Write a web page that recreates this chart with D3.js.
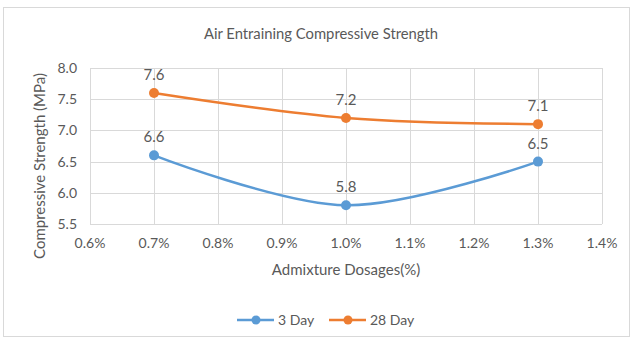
<!DOCTYPE html>
<html>
<head>
<meta charset="utf-8">
<script src="https://cdn.jsdelivr.net/npm/d3@7"></script>
<style>
body { margin: 0; background: #fff; }
text { font-family: Lato, "Open Sans", sans-serif; fill: #595959; }
</style>
</head>
<body>
<svg id="chart" width="634" height="343"></svg>
<script>
var dosages = [0.7, 1.0, 1.3]
var day3 = [6.6, 5.8, 6.5]
var day28 = [7.6, 7.2, 7.1]
var xTicks = [0.6, 0.7, 0.8, 0.9, 1.0, 1.1, 1.2, 1.3, 1.4]
var yTicks = [5.5, 6.0, 6.5, 7.0, 7.5, 8.0]
var seriesNames = ["3 Day", "28 Day"]
var colors = ["#5B9BD5", "#ED7D31"]

var svg = d3.select("#chart")

// chart border
svg.append("rect")
    .attr("x", 3.5).attr("y", 7.5)
    .attr("width", 626).attr("height", 329)
    .attr("fill", "#fff")
    .attr("stroke", "#d9d9d9")

var x = d3.scaleLinear().domain([0.6, 1.4]).range([90, 602])
var y = d3.scaleLinear().domain([5.5, 8.0]).range([224, 68])

// gridlines
svg.append("g").selectAll("line")
    .data(yTicks)
    .join("line")
    .attr("x1", 90).attr("x2", 602)
    .attr("y1", function(d){ return Math.round(y(d)) + 0.5 })
    .attr("y2", function(d){ return Math.round(y(d)) + 0.5 })
    .attr("stroke", "#d9d9d9")

svg.append("g").selectAll("line")
    .data(xTicks)
    .join("line")
    .attr("y1", 68).attr("y2", 224)
    .attr("x1", function(d){ return Math.round(x(d)) + 0.5 })
    .attr("x2", function(d){ return Math.round(x(d)) + 0.5 })
    .attr("stroke", "#d9d9d9")

// tick labels
svg.append("g").selectAll("text")
    .data(yTicks)
    .join("text")
    .attr("x", 77)
    .attr("y", function(d){ return y(d) + 5 })
    .attr("text-anchor", "end")
    .style("font-size", "14px")
    .text(function(d){ return d.toFixed(1) })

svg.append("g").selectAll("text")
    .data(xTicks)
    .join("text")
    .attr("x", function(d){ return x(d) })
    .attr("y", 248)
    .attr("text-anchor", "middle")
    .style("font-size", "14px")
    .text(function(d){ return d.toFixed(1) + "%" })

// titles
svg.append("text")
    .attr("x", 321).attr("y", 39)
    .attr("text-anchor", "middle")
    .style("font-size", "14.8px")
    .text("Air Entraining Compressive Strength")

svg.append("text")
    .attr("x", 346).attr("y", 275)
    .attr("text-anchor", "middle")
    .style("font-size", "15px")
    .text("Admixture Dosages(%)")

svg.append("text")
    .attr("transform", "translate(45,166) rotate(-90)")
    .attr("text-anchor", "middle")
    .style("font-size", "15px")
    .text("Compressive Strength (MPa)")

// series
var allSeries = [day3, day28]
var line = d3.line()
    .x(function(d){ return x(d[0]) })
    .y(function(d){ return y(d[1]) })
    .curve(d3.curveCatmullRom.alpha(0.5))

allSeries.forEach(function(vals, s){
    var pts = dosages.map(function(d, i){ return [d, vals[i]] })
    svg.append("path")
        .attr("d", line(pts))
        .attr("fill", "none")
        .attr("stroke", colors[s])
        .attr("stroke-width", 2.5)
    svg.append("g").selectAll("circle")
        .data(pts)
        .join("circle")
        .attr("cx", function(d){ return x(d[0]) })
        .attr("cy", function(d){ return y(d[1]) })
        .attr("r", 5)
        .attr("fill", colors[s])
    svg.append("g").selectAll("text")
        .data(pts)
        .join("text")
        .attr("x", function(d){ return x(d[0]) })
        .attr("y", function(d){ return y(d[1]) - 13 })
        .attr("text-anchor", "middle")
        .style("font-size", "15px")
        .text(function(d){ return d[1].toFixed(1) })
})

// legend
var legend = svg.append("g")
var legX = [237, 329]
seriesNames.forEach(function(name, i){
    var g = legend.append("g").attr("transform", "translate(" + legX[i] + ",320)")
    g.append("line").attr("x1", 0).attr("x2", 37).attr("y1", 0).attr("y2", 0)
        .attr("stroke", colors[i]).attr("stroke-width", 2.5)
    g.append("circle").attr("cx", 19).attr("cy", 0).attr("r", 4.5).attr("fill", colors[i])
    g.append("text").attr("x", 41).attr("y", 5)
        .style("font-size", "14px")
        .text(name)
})
</script>
</body>
</html>
